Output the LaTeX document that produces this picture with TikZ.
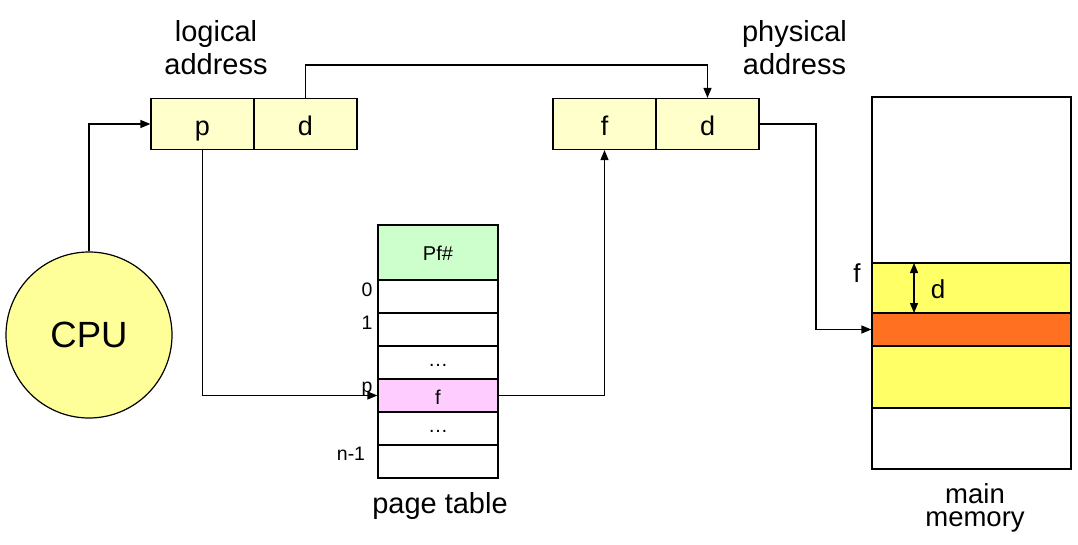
\documentclass[tikz,border=0pt]{standalone}
\usepackage{fontspec}
\setmainfont{Liberation Sans}
\usetikzlibrary{arrows.meta}
\definecolor{boxyellow}{HTML}{FFFFCC}
\definecolor{cpuyellow}{HTML}{FFFF99}
\definecolor{ptgreen}{HTML}{CCFFCC}
\definecolor{ptpink}{HTML}{FFCCFF}
\definecolor{memyellow}{HTML}{FFFF66}
\definecolor{memorange}{HTML}{FF7020}
\tikzset{
  cell/.style={draw, line width=1.2pt, fill=boxyellow, minimum width=103pt, minimum height=51pt, inner sep=0pt, text height=24pt, text depth=0pt, font=\fontsize{27}{30}\selectfont},
  ptrow/.style={draw, line width=1.2pt, fill=white, minimum width=120pt, minimum height=33pt, inner sep=0pt, text height=17pt, text depth=0pt, font=\fontsize{20}{24}\selectfont},
  memband/.style={draw, line width=1.2pt, minimum width=199pt, inner sep=0pt},
  conn/.style={line width=1.2pt},
  arr/.style={conn, -{Triangle[length=10pt,width=8pt]}},
  biglabel/.style={anchor=base, inner sep=0pt, font=\fontsize{29}{34}\selectfont},
  rowlabel/.style={anchor=base, inner sep=0pt, font=\fontsize{19.5}{22}\selectfont},
}
\begin{document}
\begin{tikzpicture}[x=1pt,y=-1pt]
\useasboundingbox (0,0) rectangle (1078,545);
% CPU
\node[draw, line width=1.2pt, circle, fill=cpuyellow, minimum size=166pt, inner sep=0pt, font=\fontsize{36.5}{40}\selectfont] (cpu) at (89,335) {CPU};
% logical address
\node[cell] (lp) at (202.5,124) {p};
\node[cell] (ld) at (305.5,124) {d};
\node[biglabel] (llab1) at (216,42) {logical};
\node[biglabel] (llab2) at (216,75) {address};
% physical address
\node[cell] (pf) at (604.5,124) {f};
\node[cell] (pd) at (707.5,124) {d};
\node[biglabel] (plab1) at (794.5,42) {physical};
\node[biglabel] (plab2) at (794.5,75) {address};
% page table
\node[ptrow, fill=ptgreen, minimum height=55pt] (pth) at (438,252.5) {Pf\#};
\node[ptrow] (pt0) at (438,296.5) {};
\node[ptrow] (pt1) at (438,329.5) {};
\node[ptrow] (ptd1) at (438,362.5) {\raisebox{5pt}{\dots}};
\node[ptrow, fill=ptpink] (ptf) at (438,395.5) {f};
\node[ptrow] (ptd2) at (438,428.5) {\raisebox{5pt}{\dots}};
\node[ptrow] (ptn) at (438,461.5) {};
\node[rowlabel] (l0) at (367,296) {0};
\node[rowlabel] (l1) at (367,329) {1};
\node[rowlabel] (lpp) at (367,392) {p};
\node[rowlabel] (ln) at (351,460) {n-1};
\node[anchor=base, inner sep=0pt, font=\fontsize{29}{32}\selectfont] (ptlab) at (440,513) {page table};
% main memory
\node[memband, fill=white, minimum height=166pt] (m1) at (971.5,180) {};
\node[memband, fill=memyellow, minimum height=50pt] (m2) at (971.5,288) {};
\node[memband, fill=memorange, minimum height=33pt] (m3) at (971.5,329.5) {};
\node[memband, fill=memyellow, minimum height=62pt] (m4) at (971.5,377) {};
\node[memband, fill=white, minimum height=61pt] (m5) at (971.5,438.5) {};
\node[rowlabel, font=\fontsize{26}{28}\selectfont] (mf) at (857,283) {f};
\node[rowlabel, font=\fontsize{26}{28}\selectfont] (md) at (938,298) {d};
\node[anchor=base, inner sep=0pt, font=\fontsize{27.5}{30}\selectfont] (mlab1) at (975,503) {main};
\node[anchor=base, inner sep=0pt, font=\fontsize{27.5}{30}\selectfont] (mlab2) at (975,526) {memory};
\coordinate (dtop) at (914,263);
\coordinate (dbot) at (914,313);
\draw[conn, {Triangle[length=10pt,width=8pt]}-{Triangle[length=10pt,width=8pt]}] (dtop) -- (dbot);
% connectors
\coordinate (topbend) at (305.5,65);
\coordinate (rbend) at (816,124);
\draw[arr] (cpu.north) |- (lp.west);
\draw[arr] (lp.south) |- (ptf.west);
\draw[arr] (ld.north) -- (topbend) -| (pd.north);
\draw[arr] (ptf.east) -| (pf.south);
\draw[arr] (pd.east) -- (rbend) |- (m3.west);
\end{tikzpicture}
\end{document}
